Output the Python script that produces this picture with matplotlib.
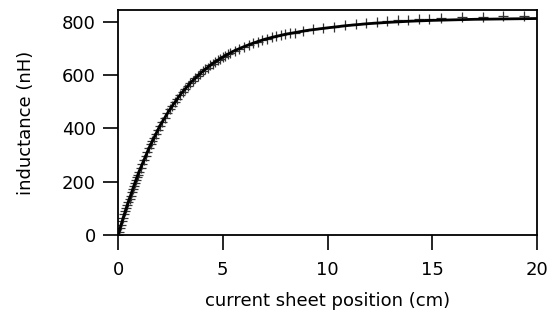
import matplotlib
matplotlib.use("Agg")
import matplotlib.pyplot as plt

plt.rcParams['font.family'] = ['DejaVu Sans']

# fitted curve
line_x = [0, 0.25, 0.5, 0.75, 1, 1.5, 2, 2.5, 3, 3.5, 4, 4.5, 5, 5.5, 6, 6.5, 7, 7.5, 8,
          9, 10, 11, 12, 13, 14, 15, 16, 17, 18, 19, 20]
line_y = [0, 65, 125, 183, 237, 330, 410, 475, 530, 575, 612, 643, 668, 690, 707, 722, 735, 745, 754,
          768, 778, 787, 794, 799, 803, 806, 808, 810, 811, 812, 813]

# measured points
pts_x = [0, 0.05, 0.1, 0.15, 0.2, 0.25, 0.3, 0.35, 0.4, 0.45, 0.5, 0.55, 0.6, 0.65, 0.7, 0.75,
         0.8, 0.85, 0.9, 0.95, 1.0,
         1.08, 1.16, 1.24, 1.32, 1.4, 1.48, 1.56, 1.64, 1.72, 1.8, 1.9, 2.0,
         2.12, 2.24, 2.36, 2.48, 2.6, 2.72, 2.84, 2.96, 3.08, 3.2, 3.32, 3.44, 3.56, 3.68, 3.8, 3.92,
         4.04, 4.16, 4.28, 4.4, 4.52, 4.64, 4.76, 4.88, 5.0, 5.12, 5.24,
         5.35, 5.57, 5.79, 6.01, 6.23, 6.45, 6.67, 6.89, 7.11, 7.33, 7.55, 7.77, 7.99, 8.21, 8.43,
         8.85, 9.3, 9.8, 10.3, 10.85, 11.35, 11.85, 12.35, 12.85, 13.35, 13.85, 14.35, 14.85, 15.4,
         16.4, 17.4, 18.4, 19.4]
pts_y = [0, 13, 26, 39, 52, 65, 77, 89, 101, 113, 125, 137, 148, 160, 171, 183,
         194, 205, 216, 226, 237,
         252, 267, 282, 297, 312, 326, 340, 353, 366, 379, 394, 410,
         426, 441, 457, 472, 486, 499, 512, 526, 537, 548, 559, 570, 579, 588, 597, 606,
         615, 622, 629, 637, 644, 650, 656, 662, 668, 673, 679,
         683, 692, 700, 707, 714, 721, 726, 732, 737, 742, 746, 750, 754, 757, 760,
         767, 772, 777, 783, 788, 792, 797, 800, 803, 806, 809, 811, 813, 815,
         818, 820, 821, 822]

x_ticks = [0, 5, 10, 15, 20]
y_ticks = [0, 200, 400, 600, 800]

fig = plt.figure(figsize=(5.52, 3.2), dpi=100)
ax = fig.add_axes([118/552, 1-235/320, (537-118)/552, (235-10)/320])

ax.plot(pts_x, pts_y, linestyle='none', marker='+', markersize=7, markeredgewidth=0.9,
        color='#333333')
ax.plot(line_x, line_y, color='black', linewidth=2.0)

ax.set_xlim(0, 20)
ax.set_ylim(0, 845)
ax.set_xticks(x_ticks)
ax.set_yticks(y_ticks)
ax.tick_params(direction='out', length=11, width=1.2, labelsize=13, pad=5, color='black')
ax.tick_params(axis='x', pad=8)
for s in ax.spines.values():
    s.set_linewidth(1.3)

ax.set_xlabel('current sheet position (cm)', fontsize=13, labelpad=9)
ax.set_ylabel('inductance (nH)', fontsize=13, labelpad=19)

fig.savefig('out.png', dpi=100)
